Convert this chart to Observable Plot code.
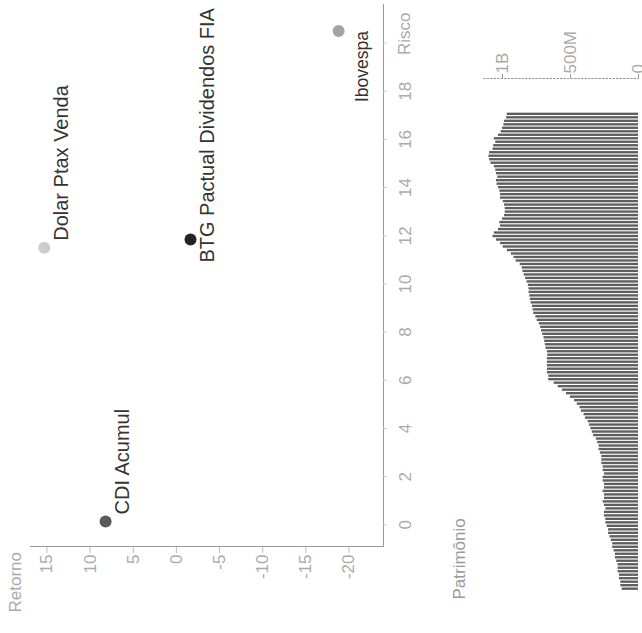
<!DOCTYPE html>
<html><head><meta charset="utf-8">
<script src="https://cdn.jsdelivr.net/npm/d3@7"></script>
<script src="https://cdn.jsdelivr.net/npm/@observablehq/plot@0.6"></script>
<style>
html,body{margin:0;padding:0;background:#fff;overflow:hidden;width:642px;height:633px;}
#rot{position:absolute;left:0;top:0;width:633px;height:642px;transform-origin:0 0;transform:translate(0,633px) rotate(-90deg);overflow:hidden;background:#fff;}
#rot svg{display:block;}
</style></head><body><div id="rot"></div>
<script>
// Scatter: risk vs return
const assets = ["CDI Acumul", "Dolar Ptax Venda", "BTG Pactual Dividendos FIA", "Ibovespa"];
const risco = [0.14, 11.5, 11.84, 20.5];
const retorno = [8.2, 15.3, -1.64, -18.8];
const dotColors = ["#5a5a5a", "#cdcdcd", "#232323", "#a3a3a3"];
const xTicks = [0, 2, 4, 6, 8, 10, 12, 14, 16, 18, 20];
const xTickLabels = ["0", "2", "4", "6", "8", "10", "12", "14", "16", "18", ""];
const yTicks = [-20, -15, -10, -5, 0, 5, 10, 15];

// Bars: fund net assets (billions), oldest first
const patrimonio = [
  0.12,0.13,0.13,0.14,0.14,0.15,0.15,0.15,0.16,0.17,0.17,0.18,0.19,0.19,0.20,0.21,0.22,0.22,0.23,0.24,0.24,
  0.25,0.25,0.24,0.25,0.26,0.25,0.25,0.26,0.25,0.25,0.26,0.26,0.25,0.26,0.26,0.27,0.27,
  0.27,0.28,0.29,0.29,0.30,0.31,0.33,0.34,0.35,0.36,0.37,0.39,0.40,0.42,0.43,0.45,0.47,0.50,0.53,0.56,0.59,0.62,
  0.66,0.66,0.67,0.67,0.67,0.67,0.67,0.667,0.67,0.68,0.685,0.69,0.695,0.705,0.713,0.72,0.73,0.745,0.755,0.77,
  0.775,0.78,0.79,0.795,0.80,0.805,0.805,0.81,0.82,0.83,0.84,0.85,0.855,0.87,0.90,0.915,0.935,0.965,0.995,1.015,
  1.045,1.07,1.06,1.03,1.015,1.02,1.00,0.985,0.98,0.98,0.985,0.995,1.015,1.015,1.02,1.03,1.04,1.045,1.035,1.045,
  1.05,1.06,1.085,1.095,1.10,1.095,1.07,1.065,1.05,1.06,1.03,1.01,1.0,0.99,0.985,0.97,0.965
];
const patTicks = [0, 0.5, 1];
const patTickLabels = ["0", "500M", "1B"];

const font = "'Liberation Sans', Arial, Helvetica, sans-serif";
const pts = assets.map((name, i) => ({name, risco: risco[i], retorno: retorno[i]}));
const pos = {x: "risco", y: "retorno", text: "name", fill: "#333", fontSize: 20};

const scatter = Plot.plot({
  width: 633, height: 420,
  marginLeft: 86, marginRight: 5, marginTop: 30, marginBottom: 37,
  style: {fontFamily: font, fontSize: "17px", background: "transparent", overflow: "visible"},
  x: {domain: [-0.9, 21.6]},
  y: {domain: [-24, 16.9]},
  color: {domain: assets, range: dotColors},
  marks: [
    Plot.frame({anchor: "left", stroke: "#999"}),
    Plot.frame({anchor: "bottom", stroke: "#999"}),
    Plot.axisX({ticks: xTicks, tickFormat: (d) => xTickLabels[xTicks.indexOf(d)], tickSize: 4, tickPadding: 11, stroke: "#ccc", fill: "#aaa", label: null}),
    Plot.axisY({ticks: yTicks, tickFormat: (d) => String(d), tickSize: 6, tickPadding: 2, stroke: "#bbb", fill: "#aaa", label: null}),
    Plot.text(["Retorno"], {text: d => d, frameAnchor: "top-left", textAnchor: "start", lineAnchor: "middle", dx: -66, dy: -15, fill: "#aaa"}),
    Plot.text(["Risco"], {text: d => d, frameAnchor: "bottom-right", textAnchor: "end", lineAnchor: "middle", dx: -8, dy: 21, fill: "#aaa"}),
    Plot.dot(pts, {x: "risco", y: "retorno", r: 6, fill: "name"}),
    Plot.text(pts.filter(d => d.name === "CDI Acumul" || d.name === "Dolar Ptax Venda"), {...pos, textAnchor: "start", lineAnchor: "top", dx: 7, dy: 9}),
    Plot.text(pts.filter(d => d.name === "BTG Pactual Dividendos FIA"), {...pos, textAnchor: "start", lineAnchor: "top", dx: -23, dy: 9}),
    Plot.text(pts.filter(d => d.name === "Ibovespa"), {...pos, fontSize: 17.5, textAnchor: "end", lineAnchor: "top", dx: 0, dy: 17})
  ]
});

const bars = patrimonio.map((v, i) => ({i, v}));
const barChart = Plot.plot({
  width: 633, height: 230,
  marginLeft: 0, marginRight: 79, marginTop: 63, marginBottom: 12,
  style: {fontFamily: font, fontSize: "17px", background: "transparent", overflow: "visible"},
  x: {type: "band", domain: bars.map(d => d.i), range: [42, 521.5], padding: 0.33, axis: null},
  y: {domain: [0, 1.14]},
  marks: [
    Plot.barY(bars, {x: "i", y: "v", fill: "#5e5e5e"}),
    Plot.frame({anchor: "right", stroke: "#999", strokeDasharray: "1.5,2"}),
    Plot.axisY({anchor: "right", ticks: patTicks, tickFormat: (d) => patTickLabels[patTicks.indexOf(d)], tickSize: 4, tickPadding: 1, stroke: "#999", fill: "#aaa", label: null}),
    Plot.text(["Patrimônio"], {text: d => d, frameAnchor: "top-left", textAnchor: "start", lineAnchor: "middle", dx: 33, dy: -24, fill: "#999"})
  ]
});

const root = document.getElementById("rot");
root.appendChild(scatter);
root.appendChild(barChart);
</script>
</body></html>
